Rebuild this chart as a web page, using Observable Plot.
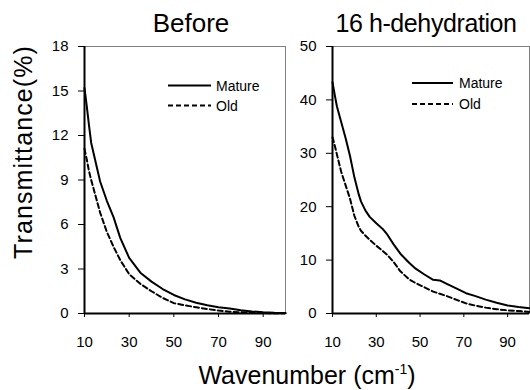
<!DOCTYPE html>
<html><head><meta charset="utf-8">
<script src="https://cdn.jsdelivr.net/npm/d3@7"></script>
<script src="https://cdn.jsdelivr.net/npm/@observablehq/plot@0.6"></script>
<style>
body{margin:0;background:#fff;font-family:"Liberation Sans",Arial,sans-serif;}
#wrap{position:relative;width:530px;height:390px;overflow:hidden;background:#fff;}
.abs{position:absolute;white-space:nowrap;color:#000;line-height:1;}
.plot{position:absolute;top:0;}
</style></head><body><div id="wrap"></div>
<script>
// ---- data ----
const xTicks = [10, 30, 50, 70, 90];
const titles = ["Before", "16 h-dehydration"];
const seriesNames = ["Mature", "Old"];

const beforeX = [10,11,12,13,15,17,20,23,26,30,35,40,45,50,55,60,65,70,75,80,85,90,95,100];
const beforeMature = [15.2,14.0,12.7,11.5,10.2,8.9,7.6,6.5,5.1,3.75,2.75,2.15,1.65,1.25,0.95,0.72,0.55,0.42,0.34,0.22,0.14,0.08,0.05,0.04];
const beforeOld = [11.1,10.4,9.6,9.0,7.9,6.8,5.5,4.5,3.6,2.65,2.0,1.5,1.05,0.7,0.55,0.42,0.3,0.2,0.12,0.08,0.05,0.03,0.02,0.02];
const beforeYTicks = [0, 3, 6, 9, 12, 15, 18];

const dehydX = [10,11,12,14,16,18,20,22,23,25,27,30,33,35,38,41,45,48,52,56,59,62,67,71,75,80,85,90,95,100];
const dehydMature = [43.3,41,38.8,35.8,32.8,29.5,25.5,22.3,21,19.3,18.1,16.9,15.8,14.8,12.9,11.2,9.5,8.4,7.3,6.3,6.2,5.6,4.6,3.8,3.3,2.6,2.0,1.5,1.2,1.0];
const dehydOld = [33,31.5,29.8,26.5,24,21.5,18.3,16.2,15.5,14.6,13.8,12.7,11.7,11.0,9.6,7.9,6.4,5.7,4.9,4.1,3.7,3.3,2.5,1.9,1.5,1.1,0.8,0.6,0.45,0.3];
const dehydYTicks = [0, 10, 20, 30, 40, 50];

const FONT = "'Liberation Sans', Arial, sans-serif";
const wrap = document.getElementById("wrap");

function panel(xs, mature, old, yTicks, width, ml, mr) {
  const rows = xs.map((x, i) => ({x, m: mature[i], o: old[i]}));
  const yMax = yTicks[yTicks.length - 1];
  return Plot.plot({
    width, height: 360,
    marginLeft: ml, marginRight: mr, marginTop: 46, marginBottom: 47,
    style: {fontFamily: FONT, fontSize: "15px", color: "#000", background: "transparent", overflow: "visible"},
    x: {domain: [xTicks[0], 100], ticks: xTicks, tickSize: 4, tickPadding: 19, label: null},
    y: {domain: [0, yMax], ticks: yTicks, tickSize: 6, tickPadding: 10, label: null},
    marks: [
      Plot.frame({stroke: "#7f7f7f", strokeWidth: 1}),
      Plot.ruleY([0], {stroke: "#000", strokeWidth: 2}),
      Plot.ruleX([xTicks[0]], {stroke: "#000", strokeWidth: 2}),
      Plot.line(rows, {x: "x", y: "o", stroke: "#000", strokeWidth: 2, strokeDasharray: "5,3"}),
      Plot.line(rows, {x: "x", y: "m", stroke: "#000", strokeWidth: 2})
    ]
  });
}

const p1 = panel(beforeX, beforeMature, beforeOld, beforeYTicks, 290, 84, 5);
p1.classList.add("plot"); p1.style.left = "0px";
wrap.appendChild(p1);
const p2 = panel(dehydX, dehydMature, dehydOld, dehydYTicks, 240, 42, 1);
p2.classList.add("plot"); p2.style.left = "290px";
wrap.appendChild(p2);

function addText(html, left, top, size, extra) {
  const d = document.createElement("div");
  d.className = "abs";
  d.innerHTML = html;
  d.style.left = left + "px";
  d.style.top = top + "px";
  d.style.fontSize = size + "px";
  if (extra) Object.assign(d.style, extra);
  wrap.appendChild(d);
  return d;
}

// titles
addText(titles[0], 191, 10, 26, {transform: "translateX(-50%)"});
addText(titles[1], 426, 11, 25, {transform: "translateX(-50%)", letterSpacing: "-0.4px"});
// axis titles
addText('Wavenumber (cm<span style="font-size:14px;position:relative;top:-10px">-1</span>)', 307, 363, 25, {transform: "translateX(-50%)"});
addText("Transmittance(%)", 23, 152, 25, {transform: "translate(-50%,-50%) rotate(-90deg)", letterSpacing: "1.1px"});

// legends
function legend(x1, x2, ySolid, yDash, textX) {
  const svg = d3.select(wrap).append("svg")
    .style("position", "absolute").style("left", "0px").style("top", "0px")
    .attr("width", 530).attr("height", 390);
  svg.append("line").attr("x1", x1).attr("x2", x2).attr("y1", ySolid).attr("y2", ySolid)
    .attr("stroke", "#000").attr("stroke-width", 2);
  svg.append("line").attr("x1", x1).attr("x2", x2).attr("y1", yDash).attr("y2", yDash)
    .attr("stroke", "#000").attr("stroke-width", 2).attr("stroke-dasharray", "5,3");
  addText(seriesNames[0], textX, ySolid - 6.6, 14);
  addText(seriesNames[1], textX, yDash - 6.6, 14);
}
legend(168, 211, 85.5, 105.5, 216);
legend(412, 453, 83, 104, 459);
</script>
</body></html>
